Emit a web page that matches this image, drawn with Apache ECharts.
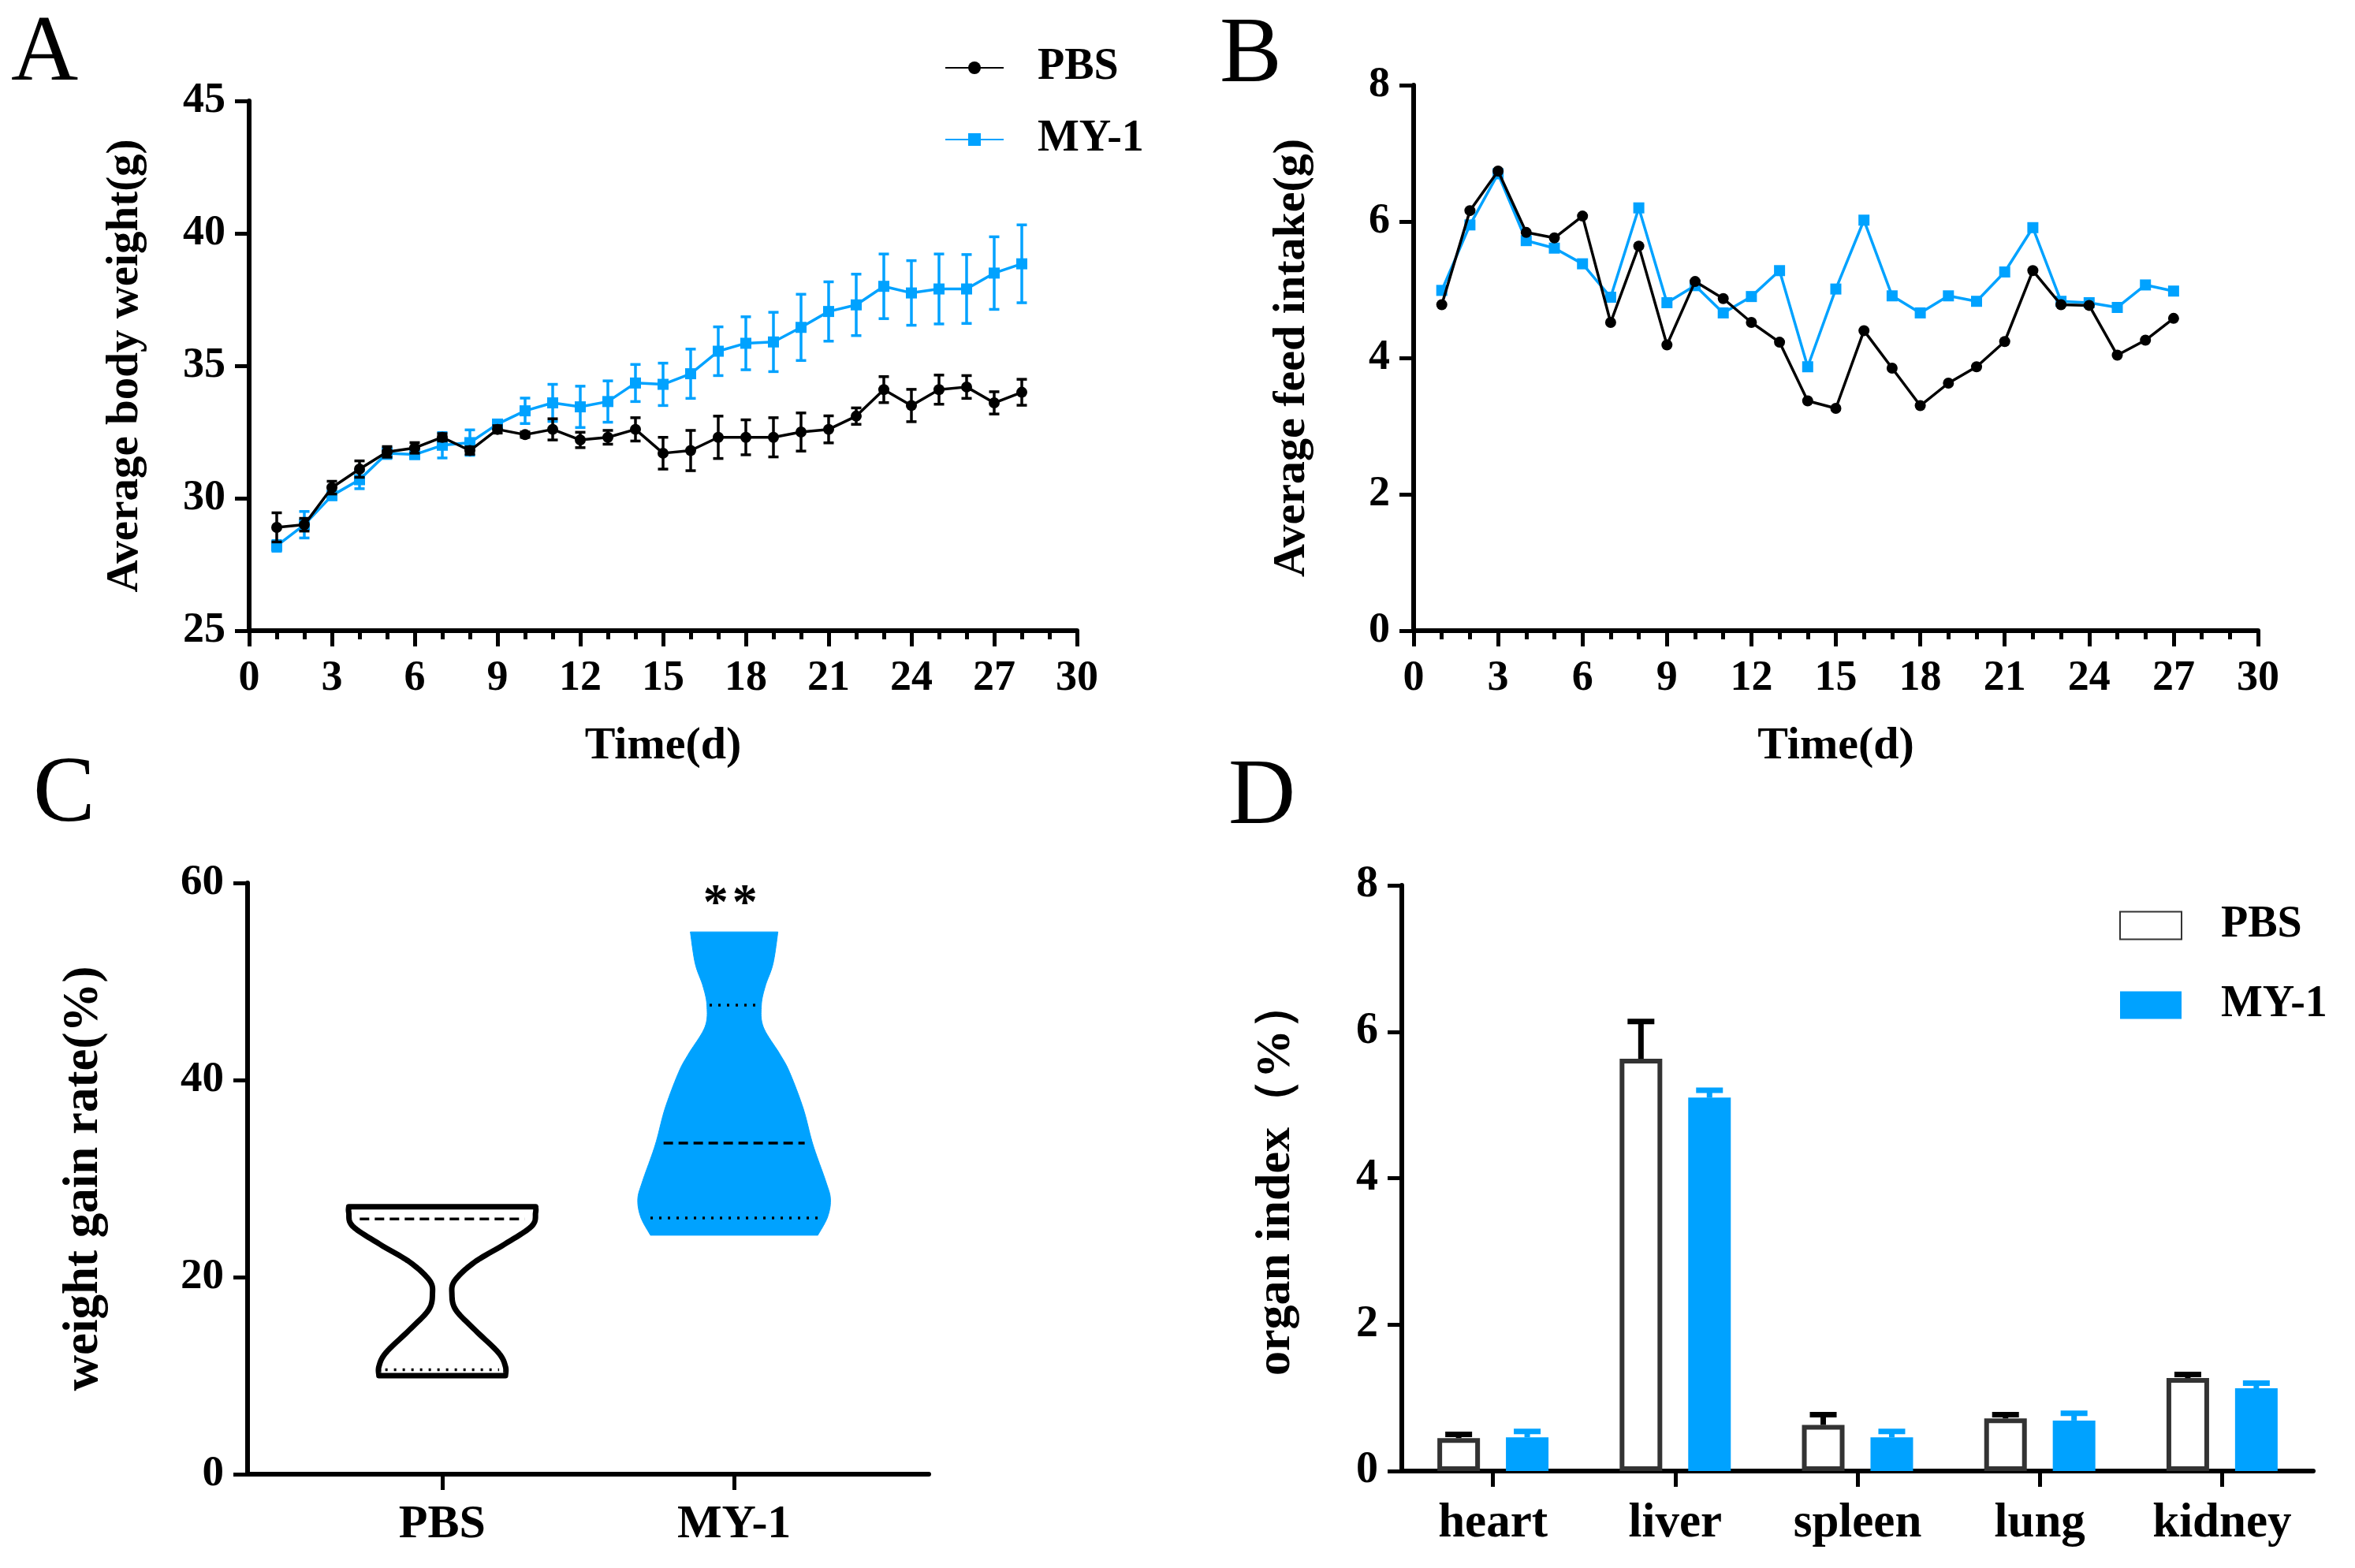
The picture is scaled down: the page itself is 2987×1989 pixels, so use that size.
<!DOCTYPE html>
<html><head><meta charset="utf-8">
<script src="https://cdn.jsdelivr.net/npm/echarts@6/dist/echarts.min.js"></script>
<style>html,body{margin:0;padding:0;background:#fff}#c{width:2987px;height:1989px}</style>
</head><body><div id="c"></div>
<script>
// ---------- DATA ----------
// Panel A: average body weight (g)
const daysA = [1,2,3,4,5,6,7,8,9,10,11,12,13,14,15,16,17,18,19,20,21,22,23,24,25,26,27,28];
const weightPBS = [28.9,29.0,30.4,31.1,31.75,31.9,32.3,31.8,32.6,32.4,32.6,32.2,32.3,32.6,31.7,31.8,32.3,32.3,32.3,32.5,32.6,33.1,34.1,33.5,34.1,34.2,33.6,34.0];
const semPBS    = [0.55,0.24,0.24,0.31,0.2,0.2,0.14,0.14,0.14,0.1,0.4,0.29,0.26,0.44,0.6,0.76,0.8,0.66,0.74,0.72,0.51,0.31,0.49,0.61,0.55,0.43,0.42,0.49];
const weightMY  = [28.2,29.0,30.1,30.7,31.7,31.65,32.0,32.1,32.8,33.3,33.6,33.45,33.65,34.35,34.3,34.7,35.55,35.85,35.9,36.45,37.05,37.3,38.0,37.75,37.9,37.9,38.5,38.85];
const semMY     = [0.2,0.5,0.15,0.34,0.2,0.15,0.48,0.48,0.15,0.48,0.7,0.78,0.78,0.7,0.8,0.93,0.92,1.0,1.12,1.25,1.12,1.16,1.22,1.22,1.32,1.3,1.37,1.47];
// Panel B: average feed intake (g)
const daysB = [1,2,3,4,5,6,7,8,9,10,11,12,13,14,15,16,17,18,19,20,21,22,23,24,25,26,27];
const feedPBS = [4.78,6.16,6.74,5.84,5.76,6.08,4.52,5.64,4.19,5.12,4.87,4.52,4.23,3.37,3.26,4.40,3.85,3.30,3.63,3.87,4.24,5.28,4.78,4.77,4.04,4.26,4.58];
const feedMY  = [4.99,5.95,6.70,5.72,5.61,5.38,4.89,6.20,4.81,5.06,4.66,4.90,5.28,3.87,5.01,6.02,4.91,4.66,4.91,4.83,5.26,5.91,4.83,4.81,4.74,5.07,4.98];
// Panel C: weight gain rate (%) violins (value, half-width in group units)
const groupsC = ['PBS','MY-1'];
const violinPBS_y = [27.15,26.55,25.17,23.33,21.5,19.66,18.28,16.67,14.61,12.31,10.93,10.0];
const violinPBS_w = [0.96,0.96,0.92,0.64,0.33,0.13,0.10,0.14,0.34,0.58,0.65,0.65];
const violinMY_y  = [55.03,51.81,49.52,47.59,45.38,42.63,40.79,37.12,33.44,29.77,27.93,26.09,24.25];
const violinMY_w  = [0.45,0.40,0.32,0.28,0.30,0.47,0.57,0.71,0.81,0.94,0.99,0.96,0.86];
const medianC   = [25.9, 33.6];
const quartileC = [[10.6],[26.0,47.6]];
const sigLabels = ['', '**'];
// Panel D: organ index (%)
const organs   = ['heart','liver','spleen','lung','kidney'];
const organPBS = [0.45,5.63,0.63,0.72,1.27];
const errPBS   = [0.05,0.51,0.14,0.05,0.05];
const organMY  = [0.46,5.10,0.46,0.69,1.13];
const errMY    = [0.08,0.10,0.08,0.10,0.07];
// Tick values
const yTicksA = {min:25, max:45, interval:5};
const yTicksB = {min:0, max:8, interval:2};
const yTicksC = {min:0, max:60, interval:20};
const yTicksD = {min:0, max:8, interval:2};

// ---------- STYLE ----------
const FONT = "'Liberation Serif','Times New Roman',serif";
const BLUE = '#00A2FF';
const BAR_W = 54, BAR_GAP = 0.61;
const txt = (size) => ({fontSize:size, fontWeight:'bold', fontFamily:FONT, color:'#000'});

function valueAxisX(gi, name, extra) {
  return Object.assign({
    gridIndex: gi, type:'value', min:0, max:30, interval:3,
    axisLine:{show:true, onZero:false, lineStyle:{color:'#000', width:6}},
    axisTick:{show:true, length:20, lineStyle:{color:'#000', width:5}},
    minorTick:{show:true, splitNumber:3, length:11, lineStyle:{color:'#000', width:5}},
    splitLine:{show:false}, minorSplitLine:{show:false},
    axisLabel:Object.assign({margin:34, showMinLabel:true, showMaxLabel:true}, txt(54)),
    name:name, nameLocation:'middle', nameGap:118, nameTextStyle:txt(58)
  }, extra || {});
}
function valueAxisY(gi, ticks, name, nameGap, labelSize, nameSize) {
  return {
    gridIndex: gi, type:'value', min:ticks.min, max:ticks.max, interval:ticks.interval,
    axisLine:{show:true, onZero:false, lineStyle:{color:'#000', width:6}},
    axisTick:{show:true, length:18, lineStyle:{color:'#000', width:5}},
    splitLine:{show:false},
    axisLabel:Object.assign({margin:30, showMinLabel:true, showMaxLabel:true}, txt(labelSize)),
    name:name, nameLocation:'middle', nameGap:nameGap, nameTextStyle:txt(nameSize)
  };
}

function errBar(color, capW, lw) {
  return function (params, api) {
    const x = api.value(0), m = api.value(1), e = api.value(2);
    const t = api.coord([x, m + e]), b = api.coord([x, m - e]);
    const st = {stroke:color, lineWidth:lw};
    return {type:'group', children:[
      {type:'line', shape:{x1:t[0], y1:t[1], x2:b[0], y2:b[1]}, style:st},
      {type:'line', shape:{x1:t[0]-capW/2, y1:t[1], x2:t[0]+capW/2, y2:t[1]}, style:st},
      {type:'line', shape:{x1:b[0]-capW/2, y1:b[1], x2:b[0]+capW/2, y2:b[1]}, style:st}
    ]};
  };
}

function catmullRom(pts, seg) {
  const out = [];
  for (let i = 0; i < pts.length - 1; i++) {
    const p0 = pts[Math.max(i-1,0)], p1 = pts[i], p2 = pts[i+1], p3 = pts[Math.min(i+2, pts.length-1)];
    for (let t = 0; t < seg; t++) {
      const s = t/seg, s2 = s*s, s3 = s2*s;
      const f = (a,b,c,d) => 0.5*(2*b + (-a+c)*s + (2*a-5*b+4*c-d)*s2 + (-a+3*b-3*c+d)*s3);
      out.push([f(p0[0],p1[0],p2[0],p3[0]), f(p0[1],p1[1],p2[1],p3[1])]);
    }
  }
  out.push(pts[pts.length-1]);
  return out;
}

const violinYs = [violinPBS_y, violinMY_y];
const violinWs = [violinPBS_w, violinMY_w];
const violinFill = ['#fff', BLUE];
const violinStroke = ['#000', BLUE];
const violinLineW = [7, 1];
const groupX = i => 2 + 3*i;

function widthAt(ys, ws, v) {
  for (let k = 0; k < ys.length - 1; k++) {
    if (v <= ys[k] && v >= ys[k+1]) {
      const r = (ys[k] - v) / (ys[k] - ys[k+1]);
      return ws[k] + (ws[k+1] - ws[k]) * r;
    }
  }
  return ws[ws.length-1];
}

function violinItem(params, api) {
  const i = params.dataIndex;
  const xc = api.value(0);
  const ys = violinYs[i], ws = violinWs[i];
  const right = catmullRom(ys.map((y,k) => api.coord([xc + ws[k], y])), 10);
  const left = catmullRom(ys.map((y,k) => api.coord([xc - ws[k], y])), 10).reverse();
  const children = [{
    type:'polygon', shape:{points: right.concat(left)},
    style:{fill: violinFill[i], stroke: violinStroke[i], lineWidth: violinLineW[i], lineJoin:'round'}
  }];
  const hline = (v, dash) => {
    const w = widthAt(ys, ws, v) * 0.9;
    const a = api.coord([xc - w, v]), b = api.coord([xc + w, v]);
    return {type:'line', shape:{x1:a[0], y1:a[1], x2:b[0], y2:b[1]}, style:{stroke:'#000', lineWidth:3.5, lineDash:dash}};
  };
  children.push(hline(medianC[i], [12, 7]));
  quartileC[i].forEach(q => children.push(hline(q, [3, 8])));
  if (sigLabels[i]) {
    const p = api.coord([xc, ys[0] + 2.7]);
    const chars = sigLabels[i].split('');
    const step = 37;
    chars.forEach((ch, k) => {
      const cx = p[0] - 5 + (k - (chars.length - 1) / 2) * step;
      children.push({type:'text', x:cx, y:p[1], style:{text: ch, font:'bold 64px ' + FONT, fill:'#000', align:'center', verticalAlign:'middle', textAlign:'center', textVerticalAlign:'middle'}});
    });
  }
  return {type:'group', children};
}

function barErrItem(sign, color) {
  return function (params, api) {
    const c = api.value(0), m = api.value(1), e = api.value(2);
    const base = api.coord([c, m]), top = api.coord([c, m + e]);
    const dx = sign * BAR_W * (1 + BAR_GAP) / 2;
    const x = base[0] + dx;
    const st = {stroke:color, lineWidth:7};
    return {type:'group', children:[
      {type:'line', shape:{x1:x, y1:base[1], x2:x, y2:top[1]}, style:st},
      {type:'line', shape:{x1:x-17, y1:top[1], x2:x+17, y2:top[1]}, style:st}
    ]};
  };
}

const chart = echarts.init(document.getElementById('c'), null, {renderer:'canvas', devicePixelRatio:1});
chart.setOption({
  animation:false,
  backgroundColor:'#fff',
  textStyle:{fontFamily:FONT},
  grid:[
    {left:316, top:128, width:1050, height:672, outerBoundsMode:'none'},
    {left:1793, top:108, width:1071, height:692, outerBoundsMode:'none'},
    {left:314, top:1120, width:864, height:750, outerBoundsMode:'none'},
    {left:1778, top:1123, width:1156, height:743, outerBoundsMode:'none'}
  ],
  xAxis:[
    valueAxisX(0, 'Time(d)'),
    valueAxisX(1, 'Time(d)'),
    {
      gridIndex:2, type:'value', min:0, max:7, interval:1,
      axisLine:{show:true, onZero:false, lineStyle:{color:'#000', width:6}},
      axisTick:{show:true, length:20, customValues: groupsC.map((g,i)=>groupX(i)), lineStyle:{color:'#000', width:5}},
      splitLine:{show:false},
      axisLabel:Object.assign({margin:34, customValues: groupsC.map((g,i)=>groupX(i)),
        formatter: v => { const k = (v - 2) / 3; return Number.isInteger(k) && groupsC[k] ? groupsC[k] : ''; }}, txt(60))
    },
    {
      gridIndex:3, type:'category', data:organs, boundaryGap:true,
      axisLine:{show:true, onZero:false, lineStyle:{color:'#000', width:6}},
      axisTick:{show:true, alignWithLabel:true, length:20, lineStyle:{color:'#000', width:5}},
      splitLine:{show:false},
      axisLabel:Object.assign({margin:37, interval:0}, txt(61))
    }
  ],
  yAxis:[
    valueAxisY(0, yTicksA, 'Average body weight(g)', 128, 54, 57),
    valueAxisY(1, yTicksB, 'Average feed intake(g)', 125, 54, 58),
    valueAxisY(2, yTicksC, 'weight gain rate(%)', 176, 55, 63),
    valueAxisY(3, yTicksD, 'organ index（%）', 128, 56, 62)
  ],
  legend:[
    {
      data:['PBS','MY-1'], orient:'vertical', left:1198, top:56, padding:0,
      itemWidth:74, itemHeight:20, itemGap:31, selectedMode:false,
      textStyle:Object.assign({lineHeight:60, padding:[0,0,0,38]}, txt(56))
    },
    {
      data:['PBS-D','MY-1-D'], orient:'vertical', left:2688, top:1144, padding:0,
      icon:'rect', itemWidth:78, itemHeight:35, itemGap:41, selectedMode:false,
      formatter: n => n.replace('-D',''),
      textStyle:Object.assign({lineHeight:60, padding:[0,0,0,45]}, txt(56))
    }
  ],
  graphic:[
    {type:'text', left:14, top:11, style:{text:'A', font:'118px ' + FONT, fill:'#000'}},
    {type:'text', left:1547, top:13, style:{text:'B', font:'118px ' + FONT, fill:'#000'}},
    {type:'text', left:42, top:951, style:{text:'C', font:'118px ' + FONT, fill:'#000'}},
    {type:'text', left:1558, top:954, style:{text:'D', font:'118px ' + FONT, fill:'#000'}}
  ],
  series:[
    // Panel A
    {type:'custom', name:'MY-1 SEM', xAxisIndex:0, yAxisIndex:0, z:2,
     renderItem: errBar(BLUE, 13, 3.5), encode:{x:0, y:1},
     data: daysA.map((d,i)=>[d, weightMY[i], semMY[i]])},
    {type:'line', name:'MY-1', xAxisIndex:0, yAxisIndex:0, z:3,
     symbol:'rect', symbolSize:14, showAllSymbol:true, color:BLUE,
     lineStyle:{color:BLUE, width:3.5}, itemStyle:{color:BLUE},
     data: daysA.map((d,i)=>[d, weightMY[i]])},
    {type:'custom', name:'PBS SEM', xAxisIndex:0, yAxisIndex:0, z:4,
     renderItem: errBar('#000', 13, 3.5), encode:{x:0, y:1},
     data: daysA.map((d,i)=>[d, weightPBS[i], semPBS[i]])},
    {type:'line', name:'PBS', xAxisIndex:0, yAxisIndex:0, z:5,
     symbol:'circle', symbolSize:14, showAllSymbol:true, color:'#000',
     lineStyle:{color:'#000', width:3.5}, itemStyle:{color:'#000'},
     data: daysA.map((d,i)=>[d, weightPBS[i]])},
    // Panel B
    {type:'line', name:'MY-1', xAxisIndex:1, yAxisIndex:1, z:3,
     symbol:'rect', symbolSize:14, showAllSymbol:true, color:BLUE,
     lineStyle:{color:BLUE, width:3.5}, itemStyle:{color:BLUE},
     data: daysB.map((d,i)=>[d, feedMY[i]])},
    {type:'line', name:'PBS', xAxisIndex:1, yAxisIndex:1, z:5,
     symbol:'circle', symbolSize:14, showAllSymbol:true, color:'#000',
     lineStyle:{color:'#000', width:3.5}, itemStyle:{color:'#000'},
     data: daysB.map((d,i)=>[d, feedPBS[i]])},
    // Panel C
    {type:'custom', name:'violin', xAxisIndex:2, yAxisIndex:2, z:3,
     renderItem: violinItem, encode:{x:0, y:1},
     data: groupsC.map((g,i)=>[groupX(i), medianC[i]])},
    // Panel D
    {type:'bar', name:'PBS-D', xAxisIndex:3, yAxisIndex:3, z:2,
     barWidth:BAR_W, barGap:(BAR_GAP*100)+'%',
     itemStyle:{color:'#fff', borderColor:'#333', borderWidth:6},
     data: organPBS},
    {type:'bar', name:'MY-1-D', xAxisIndex:3, yAxisIndex:3, z:2,
     barWidth:BAR_W, barGap:(BAR_GAP*100)+'%',
     itemStyle:{color:BLUE},
     data: organMY},
    {type:'custom', name:'PBS-D err', xAxisIndex:3, yAxisIndex:3, z:3,
     renderItem: barErrItem(-1, '#000'), encode:{x:0, y:1},
     data: organs.map((o,i)=>[i, organPBS[i], errPBS[i]])},
    {type:'custom', name:'MY-1-D err', xAxisIndex:3, yAxisIndex:3, z:3,
     renderItem: barErrItem(1, BLUE), encode:{x:0, y:1},
     data: organs.map((o,i)=>[i, organMY[i], errMY[i]])}
  ]
});
</script>
</body></html>
